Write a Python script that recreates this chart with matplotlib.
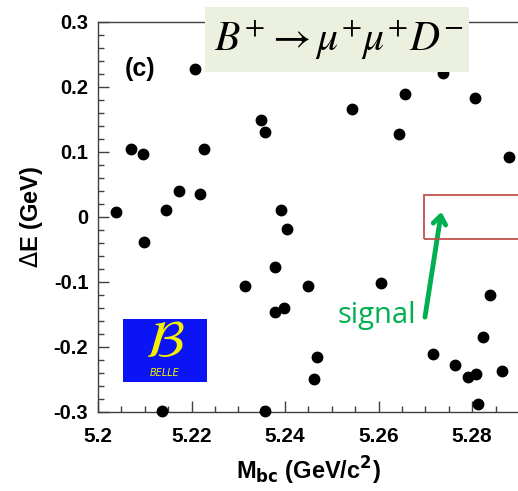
import matplotlib
matplotlib.use("Agg")
import matplotlib.pyplot as plt
from matplotlib.patches import Rectangle
from matplotlib.ticker import MultipleLocator

# candidate events: M_bc (GeV/c^2), Delta E (GeV)
mbc = [5.2207, 5.2071, 5.2096, 5.2227, 5.2174, 5.2217, 5.2038, 5.2146, 5.2098,
       5.2738, 5.2657, 5.2806, 5.2543, 5.2348, 5.2356, 5.2644, 5.2879, 5.2392,
       5.2404, 5.2314, 5.2136, 5.2379, 5.2448, 5.2604, 5.2839, 5.2378, 5.2398,
       5.2824, 5.2469, 5.2717, 5.2764, 5.2791, 5.2809, 5.2864, 5.2462, 5.2813,
       5.2358]
de = [0.227, 0.105, 0.097, 0.104, 0.040, 0.036, 0.008, 0.010, -0.039,
      0.221, 0.189, 0.183, 0.166, 0.149, 0.130, 0.128, 0.093, 0.011,
      -0.019, -0.106, -0.298, -0.077, -0.106, -0.102, -0.120, -0.146, -0.140,
      -0.184, -0.215, -0.211, -0.227, -0.246, -0.242, -0.237, -0.249, -0.288,
      -0.298]

# signal box
sig_x = (5.2697, 5.30)
sig_y = (-0.034, 0.034)

xticks = [5.2, 5.22, 5.24, 5.26, 5.28]
yticks = [-0.3, -0.2, -0.1, 0, 0.1, 0.2, 0.3]

fig = plt.figure(figsize=(5.18, 4.91), dpi=100)
ax = fig.add_axes([0.1892, 0.1609, 0.8127, 0.7943])

ax.plot(mbc, de, 'o', color='black', markersize=7.5, clip_on=False, zorder=3)

ax.set_xlim(5.2, 5.29)
ax.set_ylim(-0.3, 0.3)
ax.set_xticks(xticks)
ax.set_xticklabels(['5.2', '5.22', '5.24', '5.26', '5.28'])
ax.set_yticks(yticks)
ax.set_yticklabels(['-0.3', '-0.2', '-0.1', '0', '0.1', '0.2', '0.3'])
ax.xaxis.set_minor_locator(MultipleLocator(0.005))
ax.yaxis.set_minor_locator(MultipleLocator(0.02))

for s in ax.spines.values():
    s.set_color('#404040')
    s.set_linewidth(1.0)
ax.spines['right'].set_visible(False)

ax.tick_params(which='both', direction='in', color='#404040', width=1.0,
               top=False, right=False)
ax.tick_params(which='major', length=8)
ax.tick_params(which='minor', length=4.5)
ax.tick_params(axis='x', pad=11)
ax.tick_params(axis='y', pad=7)
for lab in ax.get_xticklabels():
    lab.set_fontsize(15)
    lab.set_fontweight('bold')
    lab.set_family('Liberation Sans')
for lab in ax.get_yticklabels():
    lab.set_fontsize(14.5)
    lab.set_fontweight('bold')
    lab.set_family('Liberation Sans')

ax.set_xlabel(r'M$_{\mathbf{bc}}$ (GeV/c$^{\mathbf{2}}$)', fontsize=17,
              fontweight='bold', family='Liberation Sans', labelpad=6,
              math_fontfamily='dejavusans')
ax.set_ylabel(r'$\Delta$E (GeV)', fontsize=17, fontweight='bold',
              family='Liberation Sans', labelpad=6,
              math_fontfamily='dejavusans')

ax.text(5.2058, 0.228, '(c)', fontsize=18, fontweight='bold',
        family='Liberation Sans', va='center', ha='left')

# signal region and arrow
ax.add_patch(Rectangle((sig_x[0], sig_y[0]), sig_x[1] - sig_x[0],
                       sig_y[1] - sig_y[0], fill=False, edgecolor='#C0504D',
                       lw=1.3, zorder=4))
ax.annotate('', xy=(5.2734, 0.008), xytext=(5.2699, -0.154),
            arrowprops=dict(arrowstyle='->,head_length=0.6,head_width=0.45',
                            color='#00B050', lw=3.5, shrinkA=0, shrinkB=0),
            annotation_clip=False)
ax.text(5.2595, -0.152, 'signal', color='#00B050', fontsize=21,
        family='Open Sans', ha='center', va='center')

# title box
fig.patches.append(Rectangle((0.3958, 0.8534), 0.5096, 0.1323,
                             transform=fig.transFigure, facecolor='#EBF1DE',
                             edgecolor='none', zorder=5))
fig.text(0.6544, 0.918, r'$B^{+}\rightarrow\mu^{+}\mu^{+}D^{-}$', fontsize=30,
         ha='center', va='center', zorder=6, math_fontfamily='stix')

# Belle logo
fig.patches.append(Rectangle((0.2375, 0.222), 0.1621, 0.1283,
                             transform=fig.transFigure, facecolor='#0A14F5',
                             edgecolor='none', zorder=5))
fig.text(0.3185, 0.303, r'$\mathcal{B}$', fontsize=38, color='#F5F000',
         ha='center', va='center', zorder=6, math_fontfamily='stix')
fig.text(0.3185, 0.241, 'BELLE', fontsize=7, color='#F5F000', style='italic',
         ha='center', va='center', zorder=6)

fig.savefig('out.png', dpi=100)
